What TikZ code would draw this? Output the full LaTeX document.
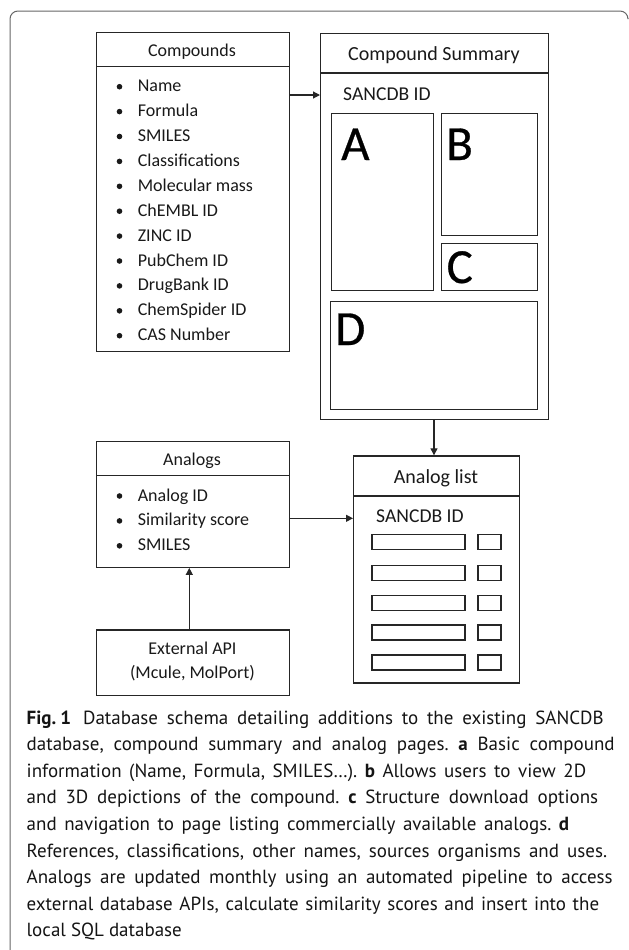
\documentclass[tikz,border=0pt]{standalone}
\usepackage{fontspec}
\setmainfont{Carlito}
\newfontfamily\capfont{PT Sans}
\newfontfamily\panelfont{Carlito}[FakeBold=0.6]
\usetikzlibrary{arrows.meta}

% one caption line, spread to a set width
\newcommand{\capline}[2]{\makebox[#1bp][s]{#2}}

\tikzset{
  line/.style={draw=black!85, line width=1.2bp},
  box/.style={line, rectangle, inner sep=0pt, anchor=north west},
  boxwh/.style 2 args={box, minimum width=#1bp, minimum height=#2bp},
  arr/.style={line, -{Triangle[length=7bp,width=7bp]}},
  txt/.style={inner sep=0pt, text=black!90},
  hdr/.style={txt, anchor=base, font=\fontsize{18bp}{20bp}\selectfont},
  hdrL/.style={txt, anchor=base, font=\fontsize{20bp}{22bp}\selectfont},
  item/.style={txt, anchor=base west, font=\fontsize{18bp}{20bp}\selectfont},
  itemL/.style={txt, anchor=base west, font=\fontsize{19.6bp}{22bp}\selectfont},
  big/.style={txt, anchor=base west, text=black, font=\panelfont\fontsize{49bp}{50bp}\selectfont},
  captxt/.style={inner sep=0pt, anchor=base west, text=black!92,
    font=\capfont\fontsize{19bp}{22bp}\selectfont\frenchspacing},
  frame/.style={draw=black!60, line width=1bp, rounded corners=8bp},
}

\begin{document}
\begin{tikzpicture}[x=1bp, y=-1bp]
\useasboundingbox (0,0) rectangle (629,950);

% figure frame (top and left edges)
\draw[frame] (10,950) -- (10,11) -- (628,11) -- (628,18);

% helper coordinates for connector rows/columns
\coordinate (y95) at (0,95);
\coordinate (y518) at (0,518.3);
\coordinate (x434) at (434,0);
\coordinate (x189) at (189.3,0);

% ---------------- Compounds table ----------------
\node[boxwh={193}{34}] (cmph) at (95.5,32) {};
\node[boxwh={193}{285}] (cmpb) at (95.5,66) {};
\node[hdr] (cmpt) at (192,56) {Compounds};
\foreach \t [count=\i from 0] in {Name, Formula, SMILES, Classifications,
    Molecular mass, ChEMBL ID, ZINC ID, PubChem ID, DrugBank ID,
    ChemSpider ID, CAS Number} {
  \node[item] (cmpi\i) at (137.6,{91.7+24.9*\i}) {\t};
  \fill[black!90] (119.5,{86.7+24.9*\i}) circle (2.8bp);
}

% ---------------- Compound Summary page ----------------
\node[boxwh={228}{39.3}] (sumh) at (320,33) {};
\node[boxwh={228}{346.4}] (sumb) at (320,72.3) {};
\node[hdrL] (sumt) at (434,60.7) {Compound Summary};
\node[itemL] (sumid) at (343,100) {SANCDB ID};
\node[boxwh={102}{177.3}] (pa) at (331,112.7) {};
\node[boxwh={96}{122.3}] (pb) at (441,112.7) {};
\node[boxwh={96}{47}] (pc) at (441,243) {};
\node[boxwh={207.5}{108}] (pd) at (329.5,301) {};
% panel letters
\node[big] (la) at (341,160) {A};
\node[big] (lb) at (446,160) {B};
\node[big] (lc) at (446.5,283) {C};
\node[big] (ld) at (335,345) {D};

% ---------------- Analogs table ----------------
\node[boxwh={193.5}{34.3}] (anah) at (95.5,440.7) {};
\node[boxwh={193.5}{91.7}] (anab) at (95.5,475) {};
\node[hdr] (anat) at (192,465.7) {Analogs};
\foreach \t [count=\i from 0] in {Analog ID, Similarity score, SMILES} {
  \node[item] (anai\i) at (137.6,{501+24.9*\i}) {\t};
  \fill[black!90] (119.5,{496+24.9*\i}) circle (2.8bp);
}

% ---------------- Analog list page ----------------
\node[boxwh={165.6}{40}] (alh) at (353,455.3) {};
\node[boxwh={165.6}{187}] (alb) at (353,495.3) {};
\node[hdrL] (alt) at (436,483.3) {Analog list};
\node[itemL] (alid) at (376,522.7) {SANCDB ID};
\foreach \r/\yy in {1/534,2/565,3/594.7,4/624.4,5/654.3} {
  \node[boxwh={93}{15}] (row\r) at (371.4,\yy) {};
  \node[boxwh={23}{15}] (cell\r) at (477.3,\yy) {};
}

% ---------------- External API ----------------
\node[boxwh={193.7}{65.4}] (ext) at (95.5,629.3) {};
\node[hdr] (extt1) at (192.4,654) {External API};
\node[hdr] (extt2) at (192.4,678.3) {(Mcule, MolPort)};

% ---------------- connectors ----------------
\draw[arr] (cmpb.east |- y95) -- (sumb.west |- y95);
\draw[arr] (sumb.south -| x434) -- (alh.north -| x434);
\draw[arr] (anab.east |- y518) -- (alb.west |- y518);
\draw[arr] (ext.north -| x189) -- (anab.south -| x189);

% ---------------- caption ----------------
\node[captxt] (c1) at (26.5,724) {\capline{577}{\textbf{Fig.\hspace{4bp}1}\hspace{12bp}Database schema detailing additions to the existing SANCDB}};
\node[captxt] (c2) at (26.5,750.6) {\capline{588}{database, compound summary and analog pages. \textbf{a} Basic compound}};
\node[captxt] (c3) at (26.5,777.2) {\capline{559.5}{information (Name, Formula, SMILES…). \textbf{b} Allows users to view 2D}};
\node[captxt] (c4) at (26.5,803.8) {\capline{571.5}{and 3D depictions of the compound. \textbf{c} Structure download options}};
\node[captxt] (c5) at (26.5,830.4) {\capline{542.5}{and navigation to page listing commercially available analogs. \textbf{d}}};
\node[captxt] (c6) at (26.5,857) {\capline{580.5}{References, classifications, other names, sources organisms and uses.}};
\node[captxt] (c7) at (26.5,883.6) {\capline{586}{Analogs are updated monthly using an automated pipeline to access}};
\node[captxt] (c8) at (26.5,910.2) {\capline{572.5}{external database APIs, calculate similarity scores and insert into the}};
\node[captxt] (c9) at (26.5,936.8) {local SQL database};
\end{tikzpicture}
\end{document}
